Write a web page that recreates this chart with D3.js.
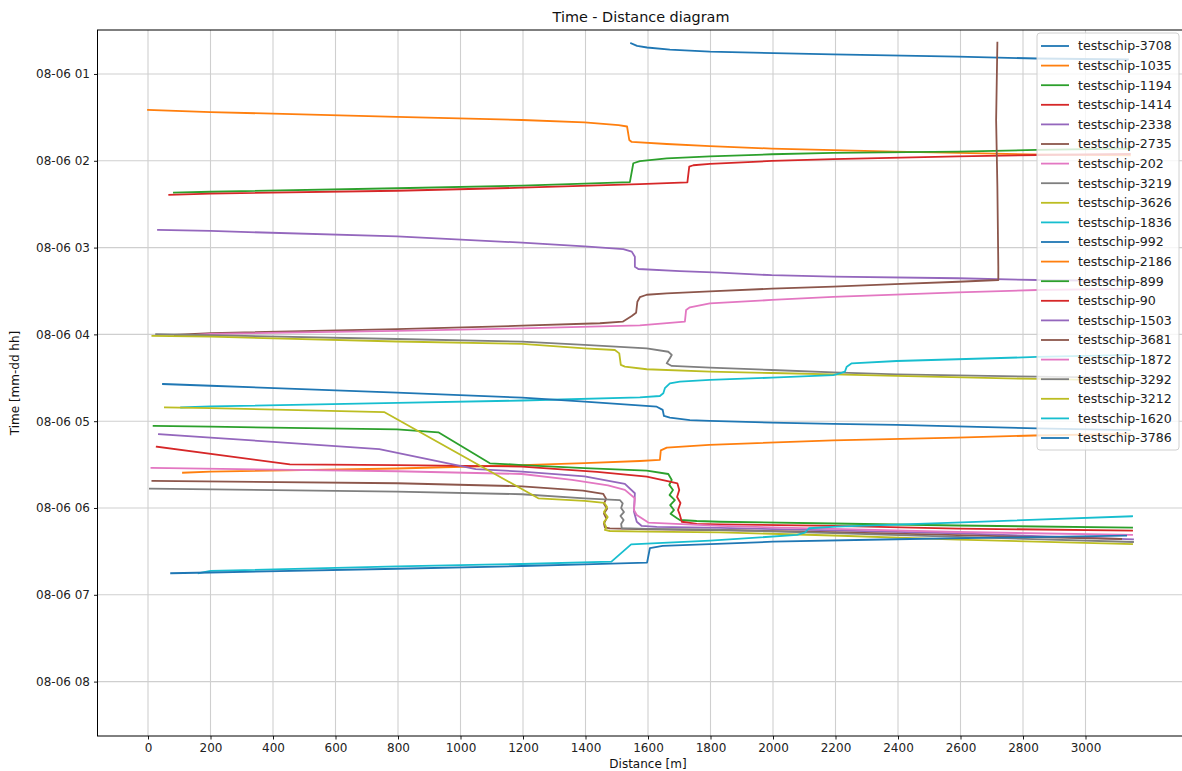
<!DOCTYPE html>
<html>
<head>
<meta charset="utf-8">
<script src="https://cdn.jsdelivr.net/npm/d3@7/dist/d3.min.js"></script>
<style>
  html, body { margin: 0; padding: 0; background: #fff; }
  svg { display: block; font-family: "DejaVu Sans", sans-serif; }
</style>
</head>
<body>
<svg id="chart" width="1182" height="771"></svg>
<script>
// Ship tracks on 08-06: [distance in metres, time of day]
const ship3708 = [[1546,"00:38:48"],[1565,"00:40:36"],[1597,"00:41:42"],[1670,"00:43:06"],[1798,"00:44:36"],[2192,"00:46:24"],[2592,"00:48:00"],[2845,"00:49:18"],[3136,"00:50:00"]];
const ship1035 = [[0,"01:24:54"],[200,"01:26:18"],[797,"01:29:42"],[1197,"01:31:48"],[1397,"01:33:24"],[1506,"01:35:18"],[1533,"01:36:18"],[1540,"01:45:36"],[1548,"01:47:00"],[1660,"01:48:24"],[1798,"01:49:48"],[1996,"01:51:36"],[2193,"01:52:42"],[2390,"01:53:42"],[2592,"01:54:36"],[2822,"01:55:36"],[3142,"01:56:18"]];
const ship1194 = [[3142,"01:51:30"],[2845,"01:52:30"],[2592,"01:53:42"],[2192,"01:54:36"],[1996,"01:55:30"],[1798,"01:56:54"],[1660,"01:58:18"],[1574,"02:00:18"],[1553,"02:01:42"],[1542,"02:14:48"],[1397,"02:15:48"],[1197,"02:17:12"],[797,"02:19:00"],[200,"02:21:24"],[83,"02:22:00"]];
const ship1414 = [[3142,"01:55:18"],[2845,"01:56:00"],[2592,"01:56:54"],[2192,"01:58:48"],[1996,"02:00:06"],[1798,"02:02:12"],[1745,"02:03:06"],[1732,"02:04:06"],[1726,"02:14:54"],[1574,"02:16:12"],[1197,"02:18:36"],[797,"02:20:42"],[200,"02:22:42"],[68,"02:23:36"]];
const ship2338 = [[32,"02:47:48"],[200,"02:48:30"],[797,"02:52:18"],[1197,"02:56:36"],[1397,"02:59:12"],[1521,"03:01:00"],[1548,"03:02:48"],[1558,"03:06:18"],[1558,"03:13:12"],[1569,"03:14:48"],[1702,"03:16:12"],[1830,"03:17:18"],[1996,"03:19:06"],[2192,"03:20:06"],[2592,"03:21:12"],[2845,"03:22:24"],[3142,"03:23:06"]];
const ship2735 = [[2718,"00:38:24"],[2714,"01:31:48"],[2718,"02:17:54"],[2721,"03:13:12"],[2721,"03:22:24"],[2593,"03:23:36"],[2390,"03:25:12"],[2193,"03:27:00"],[1996,"03:28:24"],[1798,"03:30:12"],[1660,"03:31:36"],[1596,"03:32:36"],[1574,"03:34:18"],[1566,"03:37:24"],[1562,"03:45:00"],[1548,"03:47:18"],[1519,"03:51:12"],[1446,"03:52:18"],[1197,"03:54:00"],[797,"03:56:18"],[200,"03:59:12"],[86,"04:00:24"]];
const ship202  = [[3130,"03:28:36"],[2845,"03:29:18"],[2592,"03:31:00"],[2192,"03:34:06"],[1996,"03:36:12"],[1798,"03:38:30"],[1734,"03:41:18"],[1722,"03:43:06"],[1718,"03:51:12"],[1574,"03:53:48"],[1197,"03:55:48"],[797,"03:57:36"],[200,"03:59:36"],[118,"04:00:48"]];
const ship3219 = [[26,"03:59:54"],[200,"04:00:36"],[797,"04:03:12"],[1197,"04:05:00"],[1397,"04:07:18"],[1596,"04:09:36"],[1665,"04:12:00"],[1676,"04:14:12"],[1670,"04:16:30"],[1660,"04:20:00"],[1676,"04:21:48"],[1798,"04:23:00"],[1996,"04:24:36"],[2193,"04:26:12"],[2396,"04:27:36"],[2845,"04:29:12"],[3142,"04:30:06"]];
const ship3626 = [[14,"04:01:06"],[200,"04:01:36"],[797,"04:04:54"],[1197,"04:06:36"],[1397,"04:09:36"],[1494,"04:10:48"],[1508,"04:13:06"],[1513,"04:21:06"],[1526,"04:22:18"],[1596,"04:24:06"],[1798,"04:25:48"],[1996,"04:26:42"],[2193,"04:27:36"],[2396,"04:28:42"],[2845,"04:30:48"],[3142,"04:31:54"]];
const ship1836 = [[3142,"04:14:12"],[2845,"04:15:36"],[2396,"04:18:24"],[2252,"04:20:00"],[2236,"04:22:18"],[2230,"04:25:48"],[2214,"04:26:54"],[2193,"04:28:06"],[1996,"04:29:54"],[1798,"04:31:30"],[1702,"04:32:42"],[1670,"04:33:48"],[1654,"04:37:12"],[1649,"04:40:42"],[1638,"04:42:36"],[1574,"04:43:30"],[1197,"04:45:42"],[797,"04:47:24"],[200,"04:49:48"],[106,"04:50:30"]];
const ship992  = [[48,"04:34:18"],[200,"04:35:30"],[797,"04:40:18"],[1197,"04:43:42"],[1397,"04:46:30"],[1628,"04:50:00"],[1647,"04:52:12"],[1651,"04:56:24"],[1670,"04:57:36"],[1734,"04:59:12"],[1798,"04:59:48"],[1996,"05:01:00"],[2193,"05:01:54"],[2396,"05:02:36"],[2845,"05:05:00"],[3142,"05:06:06"]];
const ship2186 = [[3142,"05:08:48"],[2835,"05:09:54"],[2589,"05:11:24"],[2192,"05:13:12"],[1796,"05:16:24"],[1660,"05:18:18"],[1641,"05:20:12"],[1638,"05:26:48"],[1574,"05:27:30"],[1397,"05:29:00"],[1197,"05:30:24"],[797,"05:32:42"],[200,"05:34:54"],[112,"05:35:36"]];
const ship899  = [[18,"05:03:18"],[200,"05:03:48"],[797,"05:05:36"],[929,"05:07:42"],[1094,"05:29:06"],[1197,"05:30:18"],[1397,"05:32:30"],[1596,"05:34:12"],[1665,"05:36:30"],[1676,"05:40:36"],[1668,"05:44:00"],[1680,"05:47:30"],[1669,"05:51:00"],[1686,"05:54:30"],[1671,"05:58:00"],[1683,"06:01:24"],[1672,"06:04:00"],[1693,"06:07:06"],[1702,"06:08:18"],[1756,"06:09:00"],[1830,"06:09:30"],[2192,"06:10:42"],[2592,"06:12:06"],[3149,"06:13:36"]];
const ship90   = [[28,"05:17:36"],[454,"05:29:48"],[797,"05:30:18"],[1197,"05:31:24"],[1437,"05:35:06"],[1596,"05:38:18"],[1670,"05:41:48"],[1694,"05:42:54"],[1700,"05:47:30"],[1693,"05:52:24"],[1704,"05:56:30"],[1696,"06:01:24"],[1702,"06:04:48"],[1708,"06:09:30"],[1756,"06:11:00"],[1830,"06:11:18"],[2192,"06:12:24"],[2592,"06:14:12"],[3149,"06:15:42"]];
const ship1503 = [[35,"05:09:00"],[200,"05:11:18"],[400,"05:14:18"],[600,"05:17:12"],[740,"05:19:18"],[1049,"05:33:06"],[1197,"05:34:48"],[1397,"05:38:06"],[1526,"05:43:18"],[1558,"05:49:48"],[1555,"06:02:30"],[1564,"06:09:30"],[1580,"06:12:24"],[1628,"06:13:06"],[1830,"06:13:48"],[2192,"06:15:30"],[2592,"06:17:36"],[3152,"06:21:36"]];
const ship3681 = [[14,"05:41:12"],[797,"05:42:54"],[1197,"05:45:00"],[1392,"05:48:00"],[1457,"05:50:18"],[1466,"05:53:42"],[1459,"05:57:00"],[1469,"06:00:30"],[1459,"06:03:54"],[1467,"06:07:24"],[1459,"06:10:48"],[1462,"06:13:24"],[1478,"06:14:06"],[1596,"06:14:48"],[1830,"06:15:12"],[2192,"06:16:42"],[2592,"06:18:48"],[3114,"06:21:24"]];
const ship1872 = [[11,"05:32:18"],[797,"05:34:36"],[1197,"05:36:30"],[1357,"05:40:36"],[1472,"05:44:24"],[1526,"05:47:30"],[1558,"05:53:18"],[1555,"06:01:24"],[1564,"06:04:48"],[1580,"06:07:06"],[1601,"06:10:06"],[1830,"06:12:24"],[2192,"06:14:30"],[2592,"06:16:36"],[3149,"06:18:36"]];
const ship3292 = [[6,"05:46:36"],[797,"05:48:42"],[1197,"05:50:30"],[1397,"05:53:24"],[1510,"05:54:30"],[1519,"05:56:48"],[1514,"06:00:00"],[1523,"06:02:48"],[1512,"06:05:30"],[1522,"06:08:18"],[1514,"06:11:00"],[1516,"06:14:00"],[1596,"06:14:30"],[1830,"06:15:12"],[2192,"06:17:18"],[2592,"06:20:00"],[3152,"06:23:30"]];
const ship3212 = [[54,"04:50:24"],[200,"04:50:54"],[757,"04:53:48"],[1249,"05:53:18"],[1397,"05:55:06"],[1460,"05:56:24"],[1469,"05:59:18"],[1459,"06:02:48"],[1471,"06:06:18"],[1459,"06:09:42"],[1466,"06:13:12"],[1462,"06:15:12"],[1478,"06:15:54"],[1596,"06:16:24"],[1830,"06:16:48"],[2192,"06:19:00"],[2592,"06:21:48"],[3149,"06:24:54"]];
const ship1620 = [[3149,"06:05:42"],[2582,"06:10:06"],[2204,"06:12:54"],[2115,"06:14:00"],[2102,"06:17:06"],[2077,"06:18:36"],[1799,"06:22:36"],[1546,"06:25:06"],[1483,"06:37:06"],[1197,"06:38:42"],[797,"06:40:24"],[200,"06:43:30"],[162,"06:45:06"]];
const ship3786 = [[3130,"06:19:06"],[2710,"06:20:30"],[2394,"06:21:36"],[1999,"06:23:18"],[1647,"06:26:12"],[1606,"06:27:48"],[1597,"06:37:48"],[1397,"06:39:00"],[1197,"06:40:06"],[797,"06:42:00"],[200,"06:44:36"],[74,"06:45:06"]];

const shipNames = ["testschip-3708","testschip-1035","testschip-1194","testschip-1414","testschip-2338",
  "testschip-2735","testschip-202","testschip-3219","testschip-3626","testschip-1836","testschip-992",
  "testschip-2186","testschip-899","testschip-90","testschip-1503","testschip-3681","testschip-1872",
  "testschip-3292","testschip-3212","testschip-1620","testschip-3786"];
const shipTracks = [ship3708, ship1035, ship1194, ship1414, ship2338, ship2735, ship202, ship3219, ship3626,
  ship1836, ship992, ship2186, ship899, ship90, ship1503, ship3681, ship1872, ship3292, ship3212, ship1620, ship3786];

const distanceTicks = [0,200,400,600,800,1000,1200,1400,1600,1800,2000,2200,2400,2600,2800,3000];
const timeTicks = ["01:00:00","02:00:00","03:00:00","04:00:00","05:00:00","06:00:00","07:00:00","08:00:00"];
const distanceLimits = [-161.6, 3312];
const timeLimits = ["00:29:36", "08:37:36"];

const palette = ["#1f77b4","#ff7f0e","#2ca02c","#d62728","#9467bd","#8c564b","#e377c2","#7f7f7f","#bcbd22","#17becf"];

const day = "2021-08-06 ";
const parseTime = d3.timeParse("%Y-%m-%d %H:%M:%S");
const toDate = t => parseTime(day + t);

const svg = d3.select("#chart");
const plot = { left: 97.5, right: 1183, top: 30, bottom: 736 };

const x = d3.scaleLinear().domain(distanceLimits).range([plot.left, plot.right]);
const y = d3.scaleTime().domain(timeLimits.map(toDate)).range([plot.top, plot.bottom]);

// grid
const grid = svg.append("g").attr("stroke", "#cfcfcf").attr("stroke-width", 1.1);
grid.selectAll("line.vx").data(distanceTicks).join("line")
  .attr("x1", d => x(d)).attr("x2", d => x(d))
  .attr("y1", plot.top).attr("y2", plot.bottom);
grid.selectAll("line.hy").data(timeTicks).join("line")
  .attr("x1", plot.left).attr("x2", plot.right)
  .attr("y1", d => y(toDate(d))).attr("y2", d => y(toDate(d)));

// tracks
const line = d3.line().x(d => x(d[0])).y(d => y(toDate(d[1])));
const clip = svg.append("clipPath").attr("id", "plotclip").append("rect")
  .attr("x", plot.left).attr("y", plot.top)
  .attr("width", plot.right - plot.left).attr("height", plot.bottom - plot.top);
svg.append("g").attr("clip-path", "url(#plotclip)")
  .selectAll("path").data(shipTracks).join("path")
  .attr("d", line)
  .attr("fill", "none")
  .attr("stroke", (d, i) => palette[i % palette.length])
  .attr("stroke-width", 1.8)
  .attr("stroke-linejoin", "round")
  .attr("stroke-linecap", "square");

// axes
const xAxis = d3.axisBottom(x).tickValues(distanceTicks).tickSize(3.5).tickPadding(4).tickFormat(d3.format("d"));
const yAxis = d3.axisLeft(y).tickValues(timeTicks.map(toDate)).tickSize(3.5).tickPadding(4).tickFormat(d3.timeFormat("%m-%d %H"));

const gx = svg.append("g").attr("transform", `translate(0,${plot.bottom})`).call(xAxis);
const gy = svg.append("g").attr("transform", `translate(${plot.left},0)`).call(yAxis);
[gx, gy].forEach(g => {
  g.select(".domain").remove();
  g.selectAll(".tick line").attr("stroke", "#000").attr("stroke-width", 0.9);
  g.selectAll(".tick text").attr("fill", "#222").style("font-size", "12px").style("font-family", "DejaVu Sans");
});

// frame
svg.append("rect")
  .attr("x", plot.left).attr("y", plot.top)
  .attr("width", plot.right - plot.left).attr("height", plot.bottom - plot.top)
  .attr("fill", "none").attr("stroke", "#000").attr("stroke-width", 1);

// titles
svg.append("text").attr("x", 641).attr("y", 22).attr("text-anchor", "middle")
  .style("font-size", "14.4px").attr("fill", "#111").text("Time - Distance diagram");
svg.append("text").attr("x", 648).attr("y", 768).attr("text-anchor", "middle")
  .style("font-size", "12px").attr("fill", "#111").text("Distance [m]");
svg.append("text").attr("transform", "translate(19,383) rotate(-90)").attr("text-anchor", "middle")
  .style("font-size", "12px").attr("fill", "#111").text("Time [mm-dd hh]");

// legend
const legend = svg.append("g");
legend.append("rect").attr("x", 1037).attr("y", 33).attr("width", 142).attr("height", 417)
  .attr("rx", 3).attr("fill", "#fff").attr("fill-opacity", 0.8)
  .attr("stroke", "#d0d0d0").attr("stroke-width", 1);
const items = legend.selectAll("g.item").data(shipNames).join("g")
  .attr("transform", (d, i) => `translate(0,${46 + i * 19.6})`);
items.append("line").attr("x1", 1041).attr("x2", 1069).attr("y1", 0).attr("y2", 0)
  .attr("stroke", (d, i) => palette[i % palette.length]).attr("stroke-width", 1.8);
items.append("text").attr("x", 1078).attr("y", 0).attr("dy", "0.35em")
  .style("font-size", "12.6px").attr("fill", "#222").text(d => d);
</script>
</body>
</html>
